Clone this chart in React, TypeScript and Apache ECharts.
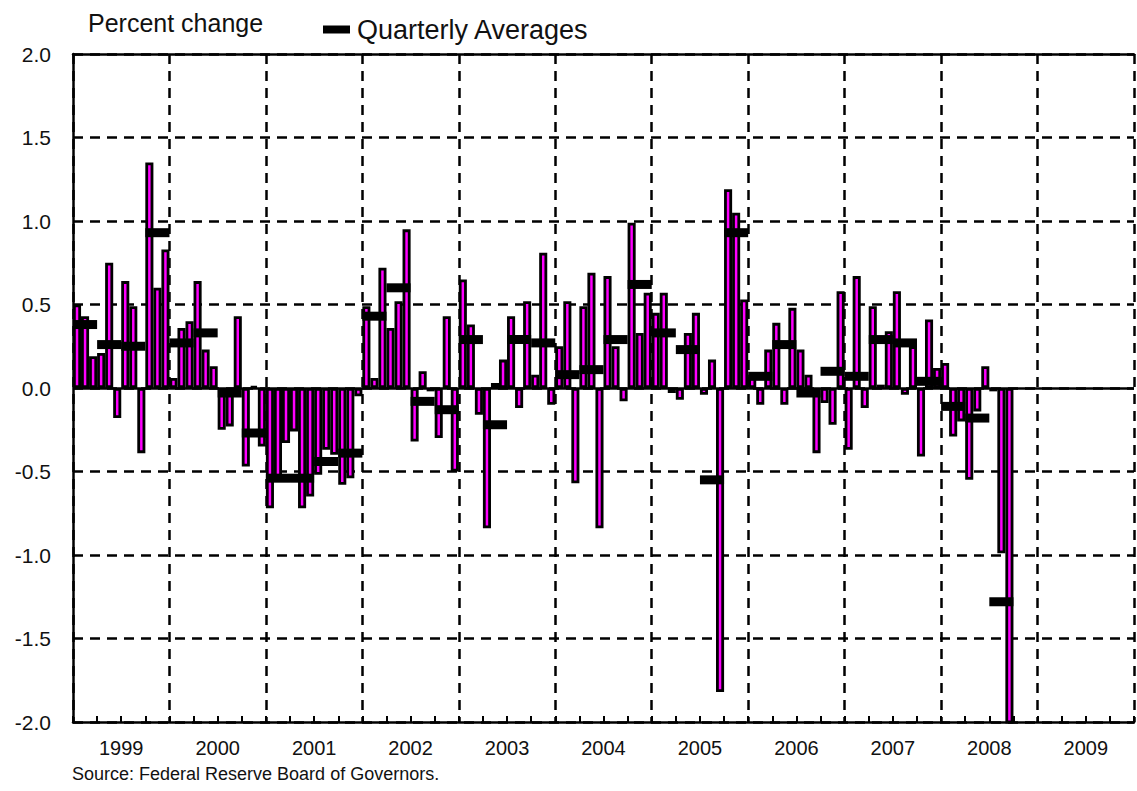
import React, { useEffect, useRef } from 'react';
import * as echarts from 'echarts';

const yearLabels = ['1999', '2000', '2001', '2002', '2003', '2004', '2005', '2006', '2007', '2008', '2009'];
const yTickLabels = ['-2.0', '-1.5', '-1.0', '-0.5', '0.0', '0.5', '1.0', '1.5', '2.0'];

// Monthly percent change, Jan..Dec
const m1999 = [0.50, 0.43, 0.19, 0.21, 0.75, -0.18, 0.64, 0.49, -0.39, 1.35, 0.60, 0.83];
const m2000 = [0.06, 0.36, 0.40, 0.64, 0.23, 0.13, -0.25, -0.23, 0.43, -0.47, 0.01, -0.35];
const m2001 = [-0.72, -0.56, -0.33, -0.26, -0.72, -0.65, -0.52, -0.37, -0.40, -0.58, -0.54, -0.05];
const m2002 = [0.49, 0.06, 0.72, 0.36, 0.52, 0.95, -0.32, 0.10, -0.02, -0.30, 0.43, -0.50];
const m2003 = [0.65, 0.38, -0.16, -0.84, 0.03, 0.17, 0.43, -0.12, 0.52, 0.08, 0.81, -0.10];
const m2004 = [0.25, 0.52, -0.57, 0.49, 0.69, -0.84, 0.67, 0.25, -0.08, 0.99, 0.33, 0.57];
const m2005 = [0.45, 0.57, -0.03, -0.07, 0.33, 0.45, -0.04, 0.17, -1.82, 1.19, 1.05, 0.53];
const m2006 = [0.08, -0.10, 0.23, 0.39, -0.10, 0.48, 0.23, 0.08, -0.39, -0.09, -0.22, 0.58];
const m2007 = [-0.37, 0.67, -0.12, 0.49, 0.02, 0.34, 0.58, -0.04, 0.25, -0.41, 0.41, 0.12];
const m2008 = [0.15, -0.29, -0.20, -0.55, -0.14, 0.13, -0.02, -0.99, -2.83];

// Quarterly averages
const q1999 = [0.38, 0.26, 0.25, 0.93];
const q2000 = [0.27, 0.33, -0.03, -0.27];
const q2001 = [-0.54, -0.54, -0.44, -0.39];
const q2002 = [0.43, 0.60, -0.08, -0.13];
const q2003 = [0.29, -0.22, 0.29, 0.27];
const q2004 = [0.08, 0.11, 0.29, 0.62];
const q2005 = [0.33, 0.23, -0.55, 0.93];
const q2006 = [0.07, 0.26, -0.03, 0.10];
const q2007 = [0.07, 0.29, 0.27, 0.04];
const q2008 = [-0.11, -0.18, -1.28];

const monthly = [...m1999, ...m2000, ...m2001, ...m2002, ...m2003, ...m2004, ...m2005, ...m2006, ...m2007, ...m2008];
const quarterly = [...q1999, ...q2000, ...q2001, ...q2002, ...q2003, ...q2004, ...q2005, ...q2006, ...q2007, ...q2008];

export default function App() {
  const ref = useRef<HTMLDivElement>(null);
  useEffect(() => {
    const chart = echarts.init(ref.current!, null, { renderer: 'svg' });
    const font = "'Liberation Sans', Arial, sans-serif";
    const barData = monthly.map((v, i) => [i + 0.5, v]);
    const qData = quarterly.map((v, i) => [i, v]);
    const option: any = {
      animation: false,
      backgroundColor: '#ffffff',
      grid: { left: 73, top: 54, width: 1067, height: 668 },
      legend: {
        data: ['Quarterly Averages'],
        left: 318,
        top: 11,
        icon: 'rect',
        itemWidth: 27,
        itemHeight: 8,
        selectedMode: false,
        textStyle: { fontSize: 27, color: '#111', fontFamily: font, padding: [0, 0, 0, 2] },
      },
      graphic: [
        { type: 'text', left: 88, top: 10, style: { text: 'Percent change', fontSize: 25, fill: '#111', fontFamily: font } },
        { type: 'text', left: 72, top: 765, style: { text: 'Source: Federal Reserve Board of Governors.', fontSize: 18, fill: '#111', fontFamily: font } },
      ],
      xAxis: [
        {
          type: 'value', min: 0, max: 132, interval: 3, position: 'bottom',
          axisLine: { show: true, onZero: false, lineStyle: { color: '#000', width: 2.5 } },
          axisTick: { show: true, inside: true, length: 6, lineStyle: { color: '#000', width: 2 } },
          axisLabel: {
            show: true, margin: 16, fontSize: 20, color: '#111', fontFamily: font,
            formatter: (v: number) => {
              const r = Math.round(v);
              return r % 12 === 6 ? yearLabels[Math.floor(r / 12)] : '';
            },
          },
          splitLine: { show: false },
        },
        {
          type: 'value', min: 0, max: 132, interval: 12, position: 'top',
          axisLine: { show: true, onZero: false, lineStyle: { color: '#000', width: 2.5 } },
          axisTick: { show: false },
          axisLabel: { show: false },
          splitLine: { show: true, lineStyle: { color: '#000', width: 2.5, type: [10, 7] } },
        },
      ],
      yAxis: {
        type: 'value', min: -2, max: 2, interval: 0.5,
        axisLine: { show: true, onZero: false, lineStyle: { color: '#000', width: 2.5 } },
        axisTick: { show: false },
        axisLabel: {
          fontSize: 21, color: '#111', fontFamily: font, margin: 22,
          formatter: (v: number) => yTickLabels[Math.round((v + 2) * 2)],
        },
        splitLine: { show: true, lineStyle: { color: '#000', width: 2.5, type: [10, 7] } },
      },
      series: [
        {
          name: 'Percent change',
          type: 'bar',
          xAxisIndex: 0,
          z: 2,
          data: barData,
          barWidth: 8.08,
          itemStyle: { color: '#ff00ff', borderColor: '#000', borderWidth: 2.8 },
          markLine: {
            silent: true,
            symbol: ['none', 'none'],
            label: { show: false },
            data: [{ yAxis: 0 }],
            lineStyle: { color: '#000', width: 2.5, type: 'solid' },
          },
        },
        {
          name: 'Quarterly Averages',
          type: 'custom',
          xAxisIndex: 0,
          z: 10,
          itemStyle: { color: '#000' },
          encode: { x: 0, y: 1 },
          data: qData,
          renderItem: (params: any, api: any) => {
            const q = api.value(0);
            const v = api.value(1);
            const p0 = api.coord([q * 3, v]);
            const p1 = api.coord([q * 3 + 3, v]);
            return {
              type: 'rect',
              z2: 100,
              shape: { x: p0[0], y: p0[1] - 4.5, width: p1[0] - p0[0], height: 9 },
              style: { fill: '#000' },
            };
          },
        },
      ],
    };
    chart.setOption(option);
    return () => chart.dispose();
  }, []);
  return (
    <div
      ref={ref}
      style={{ position: 'absolute', left: 0, top: 0, width: 1137, height: 791, background: '#fff' }}
    />
  );
}
